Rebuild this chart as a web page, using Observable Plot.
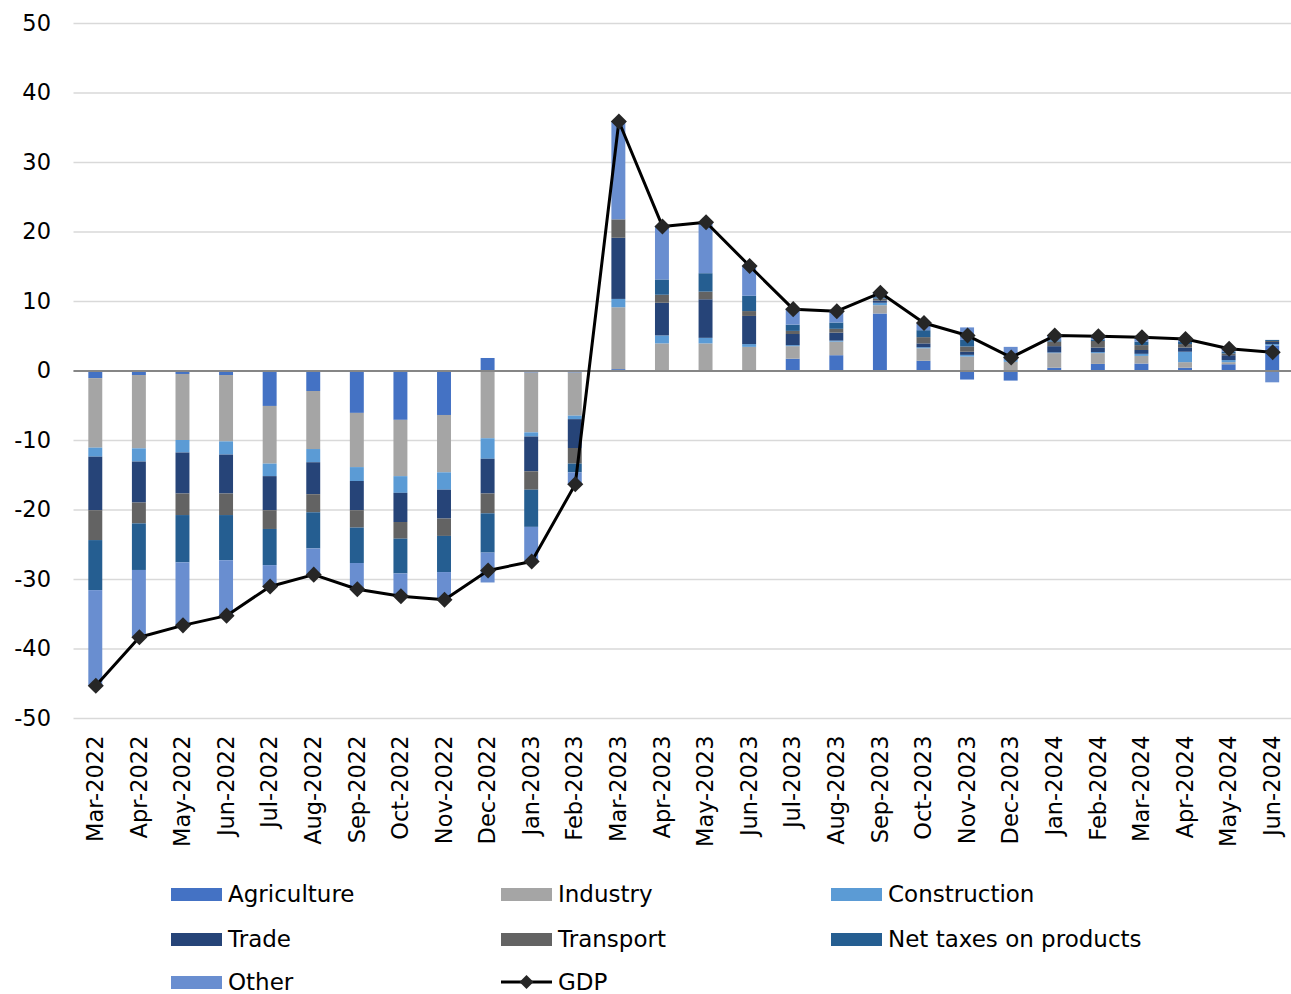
<!DOCTYPE html>
<html>
<head>
<meta charset="utf-8">
<script src="https://cdn.jsdelivr.net/npm/d3@7"></script>
<script src="https://cdn.jsdelivr.net/npm/@observablehq/plot@0.6"></script>
<style>
  html, body { margin: 0; padding: 0; background: #fff; }
  #wrap { position: relative; width: 1291px; height: 994px; font-family: "DejaVu Sans", sans-serif; color: #000; overflow: hidden; }
  .leg { position: absolute; display: flex; align-items: center; height: 23px; line-height: 1; font-size: 23px; white-space: nowrap; }
  .sw { width: 51px; height: 13px; margin-right: 6px; }
</style>
</head>
<body>
<div id="wrap"></div>
<script>
const months = ["Mar-2022","Apr-2022","May-2022","Jun-2022","Jul-2022","Aug-2022","Sep-2022","Oct-2022","Nov-2022","Dec-2022","Jan-2023","Feb-2023","Mar-2023","Apr-2023","May-2023","Jun-2023","Jul-2023","Aug-2023","Sep-2023","Oct-2023","Nov-2023","Dec-2023","Jan-2024","Feb-2024","Mar-2024","Apr-2024","May-2024","Jun-2024"];

const seriesNames = ["Agriculture","Industry","Construction","Trade","Transport","Net taxes on products","Other"];
const seriesColors = ["#4472C4","#A5A5A5","#5B9BD5","#264478","#636363","#255E91","#698ED0"];

const agriculture  = [-1.1,-0.65,-0.5,-0.65,-5.1,-2.95,-6.1,-7.1,-6.4,1.8,-0.3,-0.3,0.2,0,0,0,1.7,2.2,8.2,1.4,-1.3,-1.45,0.4,0.95,1.0,0.4,0.9,3.6];
const industry     = [-10.0,-10.55,-9.5,-9.55,-8.3,-8.35,-7.8,-8.1,-8.25,-9.75,-8.6,-6.2,8.9,3.9,3.9,3.4,1.8,1.95,1.2,1.8,2.0,1.25,2.1,1.55,1.1,0.8,0.3,0];
const construction = [-1.3,-1.9,-1.8,-1.9,-1.8,-1.9,-2.0,-2.4,-2.5,-2.95,-0.6,-0.5,1.2,1.15,0.8,0.4,0.15,0.15,0.35,0.15,0.25,0.25,0.1,0.15,0.3,1.5,0.3,0.2];
const trade        = [-7.7,-5.9,-5.9,-5.6,-4.9,-4.6,-4.2,-4.2,-4.15,-5.0,-5.0,-4.15,8.8,4.7,5.55,4.05,1.6,1.15,0.3,0.55,0.45,0,0.9,0.65,0.55,0.6,0.7,0.3];
const transport    = [-4.3,-3.0,-3.1,-3.1,-2.7,-2.6,-2.5,-2.4,-2.5,-2.85,-2.65,-2.25,2.65,1.15,1.1,0.7,0.45,0.55,0.3,0.9,0.75,0,0.65,0.95,0.7,0.5,0.25,0.15];
const netTaxes     = [-7.2,-6.7,-6.8,-6.5,-5.2,-5.2,-5.1,-5.0,-5.2,-5.65,-5.35,-1.25,0,2.2,2.65,2.2,0.9,0.9,0.2,1.0,0.95,0,0.2,0.2,0.5,0.3,0.25,0.15];
const other        = [-13.7,-9.6,-9.0,-7.9,-3.0,-3.7,-3.7,-3.2,-3.9,-4.3,-4.9,-1.8,14.1,7.7,7.4,4.3,2.3,1.7,0.7,1.0,1.8,1.9,0.75,0.55,0.7,0.5,0.5,-1.7];
const gdp          = [-45.3,-38.3,-36.6,-35.2,-31.0,-29.3,-31.4,-32.4,-32.9,-28.7,-27.4,-16.3,35.9,20.8,21.4,15.1,8.9,8.6,11.25,6.9,5.1,1.95,5.1,5.0,4.85,4.6,3.2,2.7];
const yTicks = [-50,-40,-30,-20,-10,0,10,20,30,40,50];

const seriesValues = [agriculture, industry, construction, trade, transport, netTaxes, other];
const bars = [];
seriesNames.forEach((s, i) => {
  months.forEach((m, j) => bars.push({month: m, series: s, value: seriesValues[i][j]}));
});
const gdpData = months.map((m, j) => ({month: m, value: gdp[j]}));

const chart = Plot.plot({
  width: 1291,
  height: 870,
  marginLeft: 73.5,
  marginRight: -3,
  marginTop: 23,
  marginBottom: 152,
  style: {fontFamily: "DejaVu Sans, sans-serif", color: "#000", background: "#fff"},
  x: {type: "band", domain: months, paddingInner: 0.68, paddingOuter: 0.34, align: 0.5, round: false, label: null},
  y: {domain: [-50, 50], label: null},
  color: {domain: seriesNames, range: seriesColors},
  marks: [
    Plot.gridY(yTicks, {stroke: "#d9d9d9", strokeOpacity: 1, strokeWidth: 1.6}),
    Plot.barY(bars, {x: "month", y: "value", fill: "series", order: seriesNames, inset: 0}),
    Plot.ruleY([0], {stroke: "#868686", strokeWidth: 2}),
    Plot.line(gdpData, {x: "month", y: "value", stroke: "#000", strokeWidth: 3}),
    Plot.dot(gdpData, {x: "month", y: "value", symbol: "square", rotate: 45, r: 6.4, fill: "#262626", stroke: null}),
    Plot.axisY(yTicks, {tickSize: 0, tickPadding: 23, fontSize: 22.5, label: null, tickFormat: d => String(d)}),
    Plot.axisX({tickSize: 0, tickRotate: -90, tickPadding: 17, fontSize: 22.5, label: null})
  ]
});

const wrap = document.getElementById("wrap");
wrap.appendChild(chart);

const legendItems = [
  {name: "Agriculture", color: seriesColors[0], col: 0, row: 0},
  {name: "Industry", color: seriesColors[1], col: 1, row: 0},
  {name: "Construction", color: seriesColors[2], col: 2, row: 0},
  {name: "Trade", color: seriesColors[3], col: 0, row: 1},
  {name: "Transport", color: seriesColors[4], col: 1, row: 1},
  {name: "Net taxes on products", color: seriesColors[5], col: 2, row: 1},
  {name: "Other", color: seriesColors[6], col: 0, row: 2},
  {name: "GDP", color: null, col: 1, row: 2}
];
const rowY = [894, 939, 982];
legendItems.forEach(it => {
  const d = document.createElement("div");
  d.className = "leg";
  d.style.left = (171 + it.col * 330) + "px";
  d.style.top = (rowY[it.row] - 11.5) + "px";
  if (it.color) {
    const sw = document.createElement("div");
    sw.className = "sw";
    sw.style.background = it.color;
    d.appendChild(sw);
  } else {
    const ns = "http://www.w3.org/2000/svg";
    const s = document.createElementNS(ns, "svg");
    s.setAttribute("width", 51); s.setAttribute("height", 20);
    s.style.marginRight = "6px";
    const l = document.createElementNS(ns, "line");
    l.setAttribute("x1", 0); l.setAttribute("x2", 51); l.setAttribute("y1", 10); l.setAttribute("y2", 10);
    l.setAttribute("stroke", "#000"); l.setAttribute("stroke-width", 3);
    s.appendChild(l);
    const p = document.createElementNS(ns, "path");
    p.setAttribute("d", "M25.5,3 L32.5,10 L25.5,17 L18.5,10 Z");
    p.setAttribute("fill", "#262626");
    s.appendChild(p);
    d.appendChild(s);
  }
  const t = document.createElement("span");
  t.textContent = it.name;
  d.appendChild(t);
  wrap.appendChild(d);
});
</script>
</body>
</html>
